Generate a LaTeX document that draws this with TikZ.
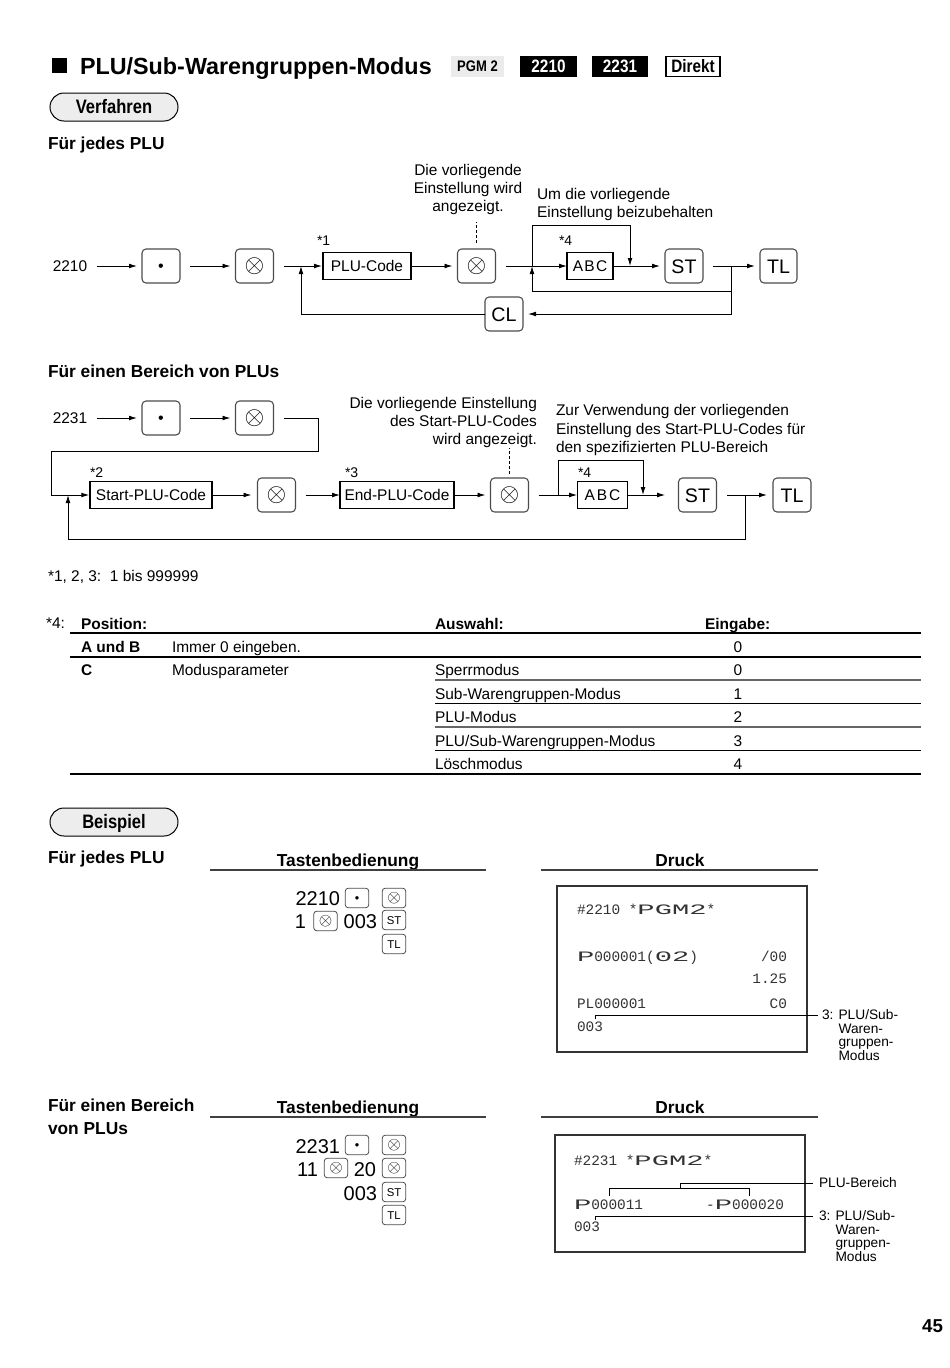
\documentclass[tikz,border=0pt]{standalone}
\usepackage{fontspec}
\usepackage{graphicx}
\setmainfont{Liberation Sans}
\newfontfamily\cond[FakeStretch=0.85]{Liberation Sans}
\newfontfamily\mono{Liberation Mono}
\usetikzlibrary{arrows.meta}
\newcommand\fsz[2]{\fontsize{#1pt}{#2pt}\selectfont}
\newcommand\ox{\scalebox{1.9}{$\otimes$}}
\newcommand\oxs{\scalebox{1.3}{$\otimes$}}
\newcommand\bul{{\fontsize{12pt}{12pt}\selectfont •}}
\newcommand\buls{{\fontsize{9.5pt}{10pt}\selectfont •}}
\newcommand\dw[1]{\scalebox{2}[1]{#1}}
\begin{document}
\begin{tikzpicture}[x=0.75pt,y=-0.75pt,
 every node/.style={inner sep=0pt,outer sep=0pt},
 txt/.style={font=\fsz{11.6}{13.5},text height=8.3pt,text depth=0pt},
 para/.style={font=\fsz{11.6}{13.5}},
 sub/.style={font=\fsz{13}{17.25}\bfseries,text height=9.3pt,text depth=0pt,anchor=west},
 key/.style={draw=black!70,line width=0.8pt,rounded corners=3pt,minimum width=28.5pt,minimum height=25.5pt},
 klbl/.style={font=\fsz{14.7}{16},text height=10.5pt,text depth=0pt},
 bkey/.style={text height=8.6pt,text depth=0pt},
 skey/.style={draw=black!70,line width=0.6pt,rounded corners=2pt,minimum width=17.5pt,minimum height=14.5pt},
 sbkey/.style={text height=6.8pt,text depth=0pt},
 sklbl/.style={font=\fsz{8.5}{9},text height=6.1pt,text depth=0pt},
 codebox/.style={draw=black,line width=0.9pt,minimum height=20pt,font=\fsz{11.6}{13.5},text height=8.3pt,text depth=0pt},
 arr/.style={line width=0.7pt,-{Latex[length=6pt,width=3.6pt]}},
 dline/.style={line width=0.7pt,dash pattern=on 2.2pt off 1.6pt},
 starlbl/.style={font=\fsz{10.5}{12},anchor=west,text height=7.5pt,text depth=0pt},
 tb/.style={font=\fsz{11.6}{13.5},text height=8.3pt,text depth=0pt,anchor=west},
 tbb/.style={font=\fsz{11.6}{13.5}\bfseries,text height=8.3pt,text depth=0pt,anchor=west},
 tbc/.style={font=\fsz{11.6}{13.5},text height=8.3pt,text depth=0pt},
 pill/.style={draw=black,line width=0.75pt,fill=black!7,rounded corners=10.5pt,minimum width=96pt,minimum height=21pt,font=\cond\fsz{14.6}{16}\bfseries,text height=10.4pt,text depth=0pt},
 tag/.style={minimum height=15.75pt,font=\cond\fsz{13.5}{14}\bfseries,text height=9.7pt,text depth=0pt},
 kseq/.style={font=\fsz{15}{17},text height=10.7pt,text depth=0pt,anchor=east},
 rcpt/.style={font=\mono\fsz{10.8}{12},text=black!80,text height=7.2pt,text depth=0pt},
 lead/.style={font=\fsz{10.3}{10.1},align=left,anchor=north west},
 tline/.style={line width=1.5pt}
]
\path[fill=white] (0,0) rectangle (950,1368);
\useasboundingbox (0,0) rectangle (950,1368);

% ---------- Title ----------
\node[fill=black,minimum size=11.25pt] (sq) at (59.5,65.5) {};
\node[anchor=west,font=\fsz{17.5}{20}\bfseries,text height=12.5pt,text depth=0pt] (title) at (80,66) {PLU/Sub-Warengruppen-Modus};
\node[tag,fill=black!8,minimum width=39.75pt,font=\cond\fsz{11.5}{12}\bfseries,text height=8.2pt] (pgm) at (477.5,66.5) {PGM 2};
\node[tag,fill=black,text=white,minimum width=42.75pt] (m2210) at (548.5,66.5) {2210};
\node[tag,fill=black,text=white,minimum width=42pt] (m2231) at (620,66.5) {2231};
\node[tag,draw=black,line width=0.9pt,minimum width=40.5pt,minimum height=15pt] (direkt) at (693,66.5) {Direkt};

\node[pill] (verf) at (114,107) {Verfahren};
\node[sub] (h1) at (48,143) {Für jedes PLU};

% ---------- Diagram 1 ----------
\node[txt] (t2210) at (70,266) {2210};
\node[key,bkey] (k1) at (161,266) {\bul};
\node[key] (k2) at (254.5,266) {\ox};
\node[codebox,minimum width=66pt] (plu) at (367,266) {PLU-Code};
\node[key] (k3) at (476.5,266) {\ox};
\node[codebox,minimum width=34.5pt] (abc1) at (590,266) {A\kern1pt B\kern1pt C};
\node[key,klbl] (st1) at (684,266) {ST};
\node[key,klbl,minimum width=27.75pt] (tl1) at (778.5,266) {TL};
\node[key,klbl] (cl) at (504,314) {CL};
\node[starlbl] (s1) at (317,240) {*1};
\node[starlbl] (s4a) at (559,240) {*4};

\draw[arr,shorten <=7.5pt,shorten >=3.75pt] (t2210) -- (k1);
\draw[arr,shorten <=7.5pt,shorten >=3.75pt] (k1) -- (k2);
\draw[arr,shorten <=7.5pt,shorten >=0.75pt] (k2) -- (plu);
\draw[arr,shorten >=3.75pt] (plu) -- (k3);
\draw[arr,shorten <=7.5pt] (k3) -- (abc1);
\draw[arr,shorten >=3.75pt] (abc1) -- (st1);
\draw[arr,shorten <=7.5pt,shorten >=3.75pt] (st1) -- (tl1);

\coordinate (j1) at (532,266);
\coordinate (j1t) at (532,225);
\coordinate (b1) at (630,225);
\coordinate (b1e) at (630,266);
\draw[arr] (j1) -- (j1t) -- (b1) -- (b1e);
\coordinate (j2) at (731,266);
\coordinate (j2m) at (731,291);
\draw[arr,shorten >=3.75pt] (j2) |- (cl);
\draw[arr] (j2m) -| (j1);
\coordinate (j3) at (301,266);
\draw[arr] (cl) -| (j3);
\coordinate (d1) at (477,222);
\draw[dline,shorten <=4.5pt] (k3.north) -- (k3.north |- d1);

\node[para,align=center,anchor=north] (n1) at (468,164.5) {Die vorliegende\\Einstellung wird\\angezeigt.};
\node[para,align=left,anchor=north west] (n2) at (537,188.5) {Um die vorliegende\\Einstellung beizubehalten};

% ---------- Diagram 2 ----------
\node[sub] (h2) at (48,371) {Für einen Bereich von PLUs};
\node[txt] (t2231) at (70,418) {2231};
\node[key,bkey] (k4) at (161,418) {\bul};
\node[key] (k5) at (254.5,418) {\ox};
\node[codebox,minimum width=91.5pt] (spl) at (151,495) {Start-PLU-Code};
\node[key] (k6) at (276.5,495) {\ox};
\node[codebox,minimum width=85.5pt] (endp) at (397,495) {End-PLU-Code};
\node[key] (k7) at (509.5,495) {\ox};
\node[codebox,minimum width=38pt] (abc2) at (602.5,495) {A\kern1.5pt B\kern1.5pt C};
\node[key,klbl] (st2) at (697.5,495) {ST};
\node[key,klbl] (tl2) at (792,495) {TL};
\node[starlbl] (s2) at (90,472) {*2};
\node[starlbl] (s3) at (345,472) {*3};
\node[starlbl] (s4b) at (578,472) {*4};

\draw[arr,shorten <=7.5pt,shorten >=3.75pt] (t2231) -- (k4);
\draw[arr,shorten <=7.5pt,shorten >=3.75pt] (k4) -- (k5);
\coordinate (r1) at (318,451);
\coordinate (r2) at (51,451);
\draw[arr,shorten <=7.5pt,shorten >=0.5pt] (k5.east) -| (r1) -- (r2) |- (spl.west);
\draw[arr,shorten >=4.5pt] (spl) -- (k6);
\draw[arr,shorten <=7.5pt] (k6) -- (endp);
\draw[arr,shorten >=3.75pt] (endp) -- (k7);
\draw[arr,shorten <=7.5pt] (k7) -- (abc2);
\draw[arr,shorten >=10pt] (abc2) -- (st2);
\draw[arr,shorten <=8pt,shorten >=4.5pt] (st2) -- (tl2);

\coordinate (j4) at (558,495);
\coordinate (j4t) at (558,460);
\coordinate (b2) at (643,460);
\coordinate (b2e) at (643,495);
\draw[arr] (j4) -- (j4t) -- (b2) -- (b2e);
\coordinate (j5) at (745,495);
\coordinate (j5b) at (745,539);
\coordinate (j6) at (68,495);
\draw[arr] (j5) -- (j5b) -| (j6);
\coordinate (d2) at (510,448);
\draw[dline,shorten <=3pt] (k7.north) -- (k7.north |- d2);

\node[para,align=right,anchor=north east] (n3) at (537,397.5) {Die vorliegende Einstellung\\des Start-PLU-Codes\\wird angezeigt.};
\node[para,align=left,anchor=north west,font=\fsz{11.6}{13.9}] (n4) at (556,404.5) {Zur Verwendung der vorliegenden\\Einstellung des Start-PLU-Codes für\\den spezifizierten PLU-Bereich};

\node[tb] (range) at (48,576) {*1, 2, 3:\ \ 1 bis 999999};

% ---------- Table ----------
\node[tb] (st4) at (46,623) {*4:};
\node[tbb] (hp) at (81,624) {Position:};
\node[tbb] (ha) at (435,624) {Auswahl:};
\node[tbb] (he) at (705,624) {Eingabe:};
\draw[tline] (70,633) -- (921,633);
\node[tbb] (rab) at (81,647) {A und B};
\node[tb] (rab2) at (172,647) {Immer 0 eingeben.};
\node[tbc] (rab3) at (738,647) {0};
\draw[line width=1.1pt] (70,657) -- (921,657);
\node[tbb] (rc) at (81,670) {C};
\node[tb] (rc2) at (172,670) {Modusparameter};
\node[tb] (o0) at (435,670) {Sperrmodus};
\node[tbc] (v0) at (738,670) {0};
\draw[line width=1.3pt,black!60] (435,680) -- (921,680);
\node[tb] (o1) at (435,694) {Sub-Warengruppen-Modus};
\node[tbc] (v1) at (738,694) {1};
\draw[line width=0.9pt] (435,703.5) -- (921,703.5);
\node[tb] (o2) at (435,717) {PLU-Modus};
\node[tbc] (v2) at (738,717) {2};
\draw[line width=1.3pt,black!60] (435,727) -- (921,727);
\node[tb] (o3) at (435,741) {PLU/Sub-Warengruppen-Modus};
\node[tbc] (v3) at (738,741) {3};
\draw[line width=0.9pt] (435,750.5) -- (921,750.5);
\node[tb] (o4) at (435,764) {Löschmodus};
\node[tbc] (v4) at (738,764) {4};
\draw[tline] (70,774) -- (921,774);

% ---------- Beispiel ----------
\node[pill] (beisp) at (114,822) {Beispiel};
\node[sub] (h3) at (48,857) {Für jedes PLU};
\node[font=\fsz{13}{14}\bfseries,text height=9.3pt,text depth=0pt] (tb1) at (348,860) {Tastenbedienung};
\draw[line width=0.8pt,black!75] (210,870) -- (486,870);
\node[font=\fsz{13}{14}\bfseries,text height=9.3pt,text depth=0pt] (dr1) at (680,860) {Druck};
\draw[line width=0.8pt,black!75] (541,870) -- (818,870);

\node[kseq] (a1) at (340,898) {2210};
\node[skey,sbkey] (a2) at (357,898) {\buls};
\node[skey] (a3) at (394,898) {\oxs};
\node[kseq] (a4) at (306,921) {1};
\node[skey] (a5) at (325.5,921) {\oxs};
\node[kseq] (a6) at (377,921) {003};
\node[skey,sklbl] (a7) at (394,920) {ST};
\node[skey,sklbl] (a8) at (394,944) {TL};

\node[draw=black!80,line width=0.9pt,minimum width=187.5pt,minimum height=124.5pt] (rc1) at (682,969) {};
\node[rcpt,anchor=west] (p1) at (577,910) {\#2210 *\dw{P}\dw{G}\dw{M}\dw{2}*};
\node[rcpt,anchor=west] (p2) at (577,957) {\dw{P}000001(\dw{0}\dw{2})};
\node[rcpt,anchor=east] (p3) at (787,957) {/00};
\node[rcpt,anchor=east] (p4) at (787,979) {1.25};
\node[rcpt,anchor=west] (p5) at (577,1004) {PL000001};
\node[rcpt,anchor=east] (p6) at (787,1004) {C0};
\node[rcpt,anchor=west] (p7) at (577,1027) {003};
\coordinate (l1a) at (595,1019);
\coordinate (l1b) at (595,1015);
\coordinate (l1c) at (818,1015);
\draw[line width=0.7pt] (l1a) -- (l1b) -- (l1c);
\node[lead] (lab1) at (822,1010) {3: PLU/Sub-\\\phantom{3: }Waren-\\\phantom{3: }gruppen-\\\phantom{3: }Modus};

\node[font=\fsz{13}{17.25}\bfseries,align=left,anchor=north west] (h4) at (48,1098.8) {Für einen Bereich\\von PLUs};
\node[font=\fsz{13}{14}\bfseries,text height=9.3pt,text depth=0pt] (tb2) at (348,1107) {Tastenbedienung};
\draw[line width=0.8pt,black!75] (210,1117) -- (486,1117);
\node[font=\fsz{13}{14}\bfseries,text height=9.3pt,text depth=0pt] (dr2) at (680,1107) {Druck};
\draw[line width=0.8pt,black!75] (541,1117) -- (818,1117);

\node[kseq] (e1) at (340,1146) {2231};
\node[skey,sbkey] (e2) at (357,1145) {\buls};
\node[skey] (e3) at (394,1145) {\oxs};
\node[kseq] (e4) at (318,1169) {11};
\node[skey] (e5) at (336,1168) {\oxs};
\node[kseq] (e6) at (376,1169) {20};
\node[skey] (e7) at (394,1168) {\oxs};
\node[kseq] (e8) at (377,1193) {003};
\node[skey,sklbl] (e9) at (394,1192) {ST};
\node[skey,sklbl] (e10) at (394,1215) {TL};

\node[draw=black!80,line width=0.9pt,minimum width=187.5pt,minimum height=87.75pt] (rc2) at (680,1193.5) {};
\node[rcpt,anchor=west] (q1) at (574,1161) {\#2231 *\dw{P}\dw{G}\dw{M}\dw{2}*};
\node[rcpt,anchor=west] (q2) at (574,1205) {\dw{P}000011};
\node[rcpt,anchor=east] (q3) at (784,1205) {-\dw{P}000020};
\node[rcpt,anchor=west] (q4) at (574,1227) {003};
\coordinate (br1) at (609,1196);
\coordinate (br2) at (609,1188);
\coordinate (br3) at (749,1188);
\coordinate (br4) at (749,1196);
\draw[line width=0.7pt] (br1) -- (br2) -- (br3) -- (br4);
\coordinate (br5) at (680,1188);
\coordinate (br6) at (680,1183);
\coordinate (br7) at (813,1183);
\draw[line width=0.7pt] (br5) -- (br6) -- (br7);
\node[font=\fsz{10.3}{11},anchor=west,text height=7.4pt,text depth=0pt] (pb) at (819,1183) {PLU-Bereich};
\coordinate (l2a) at (595,1220);
\coordinate (l2b) at (595,1216);
\coordinate (l2c) at (813,1216);
\draw[line width=0.7pt] (l2a) -- (l2b) -- (l2c);
\node[lead] (lab2) at (819,1211) {3: PLU/Sub-\\\phantom{3: }Waren-\\\phantom{3: }gruppen-\\\phantom{3: }Modus};

\node[anchor=east,font=\fsz{14}{15}\bfseries,text height=10pt,text depth=0pt] (pg) at (943,1326) {45};
\end{tikzpicture}
\end{document}
